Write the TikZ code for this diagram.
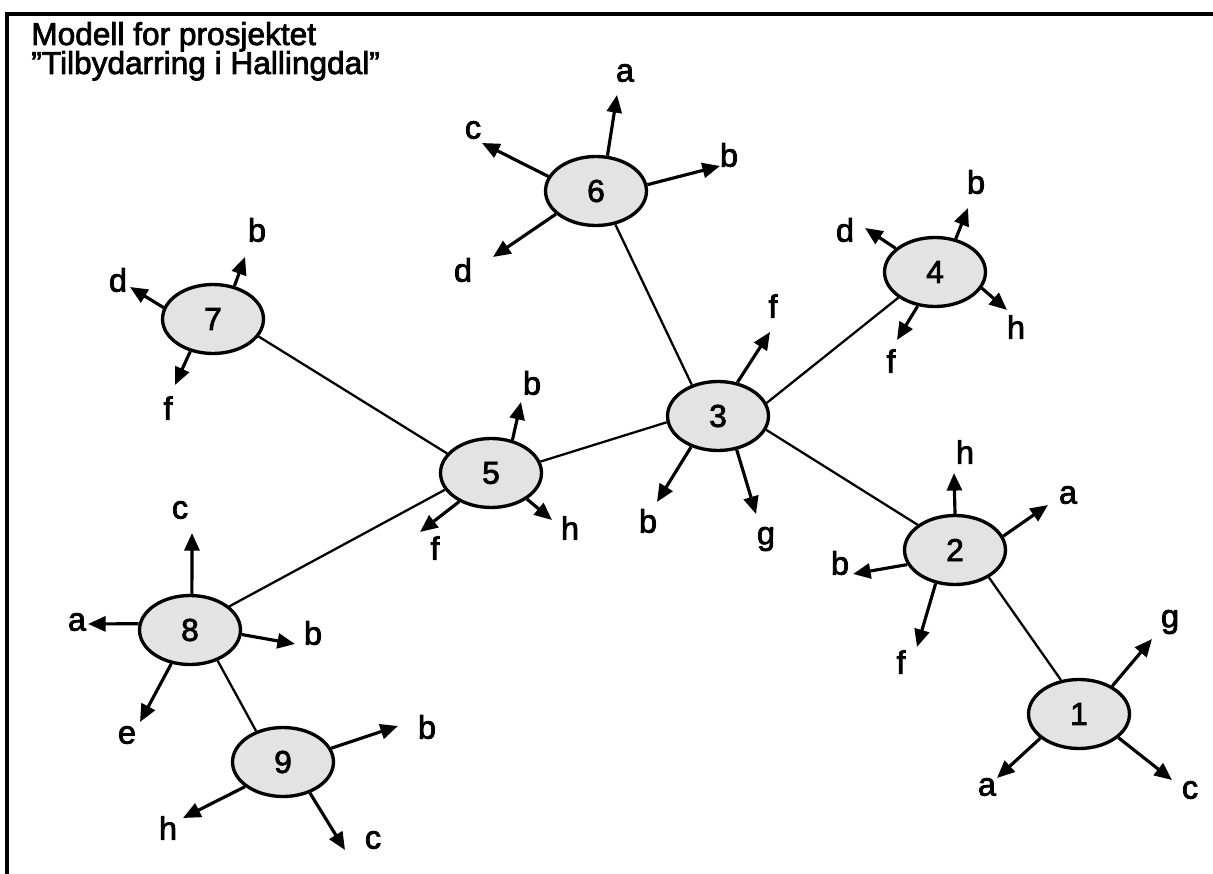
\documentclass[tikz,border=0pt]{standalone}
\usepackage{fontspec}
\setmainfont{Liberation Sans}[FakeBold=2.4]
\usetikzlibrary{arrows.meta,shapes.geometric}
\begin{document}
\begin{tikzpicture}[x=0.02cm,y=-0.02cm,
  blob/.style={ellipse,draw,line width=1.9pt,fill=black!11,minimum width=2.02cm,minimum height=1.38cm,inner sep=0pt,font=\fontsize{18}{20}\selectfont},
  lab/.style={inner sep=0pt,font=\fontsize{18.5}{20}\selectfont},
  ttl/.style={inner sep=0pt,anchor=base west,font=\fontsize{18}{21}\selectfont},
  link/.style={line width=1.3pt},
  outarrow/.style={line width=1.8pt,-{Triangle[length=10pt,width=8.5pt]}},
  frame/.style={line width=1.8pt}
]
\useasboundingbox (0,0) rectangle (1213,874);
% frame
\coordinate (fa) at (7,874);
\coordinate (fb) at (7,14);
\coordinate (fc) at (1213,14);
\draw[frame] (fa) -- (fb) -- (fc);
% title
\node[ttl] (t1) at (31,45) {Modell for prosjektet};
\node[ttl] (t2) at (31,74) {”Tilbydarring i Hallingdal”};
% nodes
\node[blob] (n1) at (1079,714) {1};
\node[blob] (n2) at (955,550) {2};
\node[blob] (n3) at (718,416) {3};
\node[blob] (n4) at (935,272) {4};
\node[blob] (n5) at (491,473) {5};
\node[blob] (n6) at (596,191) {6};
\node[blob] (n7) at (213,319) {7};
\node[blob] (n8) at (190,630) {8};
\node[blob] (n9) at (283,762) {9};
% links
\draw[link] (n6.-60) -- (n3.130);
\draw[link] (n4.215) -- (n3.15);
\draw[link] (n7.-21) -- (n5.156);
\draw[link] (n5.13) -- (n3.187);
\draw[link] (n3.-16) -- (n2.146);
\draw[link] (n2.-39) -- (n1.118);
\draw[link] (n8.31) -- (n5.200);
\draw[link] (n8.-48) -- (n9.131);
% node 6
\coordinate (p6a) at (617,95);  \node[lab] (l6a) at (625,73) {a};
\coordinate (p6c) at (482,143); \node[lab] (l6c) at (473,130) {c};
\coordinate (p6b) at (720,166); \node[lab] (l6b) at (729,155) {b};
\coordinate (p6d) at (493,257); \node[lab] (l6d) at (463,270) {d};
\draw[outarrow] (n6.72) -- (p6a);
\draw[outarrow] (n6.163) -- (p6c);
\draw[outarrow] (n6.7) -- (p6b);
\draw[outarrow] (n6.210) -- (p6d);
% node 4
\coordinate (p4b) at (968,208);  \node[lab] (l4b) at (976,182) {b};
\coordinate (p4d) at (865,228);  \node[lab] (l4d) at (845,230) {d};
\coordinate (p4h) at (1007,310); \node[lab] (l4h) at (1016,327) {h};
\coordinate (p4f) at (897,340);  \node[lab] (l4f) at (891,361) {f};
\draw[outarrow] (n4.58) -- (p4b);
\draw[outarrow] (n4.149) -- (p4d);
\draw[outarrow] (n4.-19) -- (p4h);
\draw[outarrow] (n4.243) -- (p4f);
% node 7
\coordinate (p7b) at (245,257); \node[lab] (l7b) at (257,230) {b};
\coordinate (p7d) at (130,287); \node[lab] (l7d) at (118,280) {d};
\coordinate (p7f) at (175,385); \node[lab] (l7f) at (168,408) {f};
\draw[outarrow] (n7.57) -- (p7b);
\draw[outarrow] (n7.167) -- (p7d);
\draw[outarrow] (n7.235) -- (p7f);
% node 3
\coordinate (p3f) at (770,332); \node[lab] (l3f) at (773,306) {f};
\coordinate (p3b) at (657,502); \node[lab] (l3b) at (648,521) {b};
\coordinate (p3g) at (756,514); \node[lab] (l3g) at (766,539) {g};
\draw[outarrow] (n3.60) -- (p3f);
\draw[outarrow] (n3.229) -- (p3b);
\draw[outarrow] (n3.-61) -- (p3g);
% node 5
\coordinate (p5b) at (521,402); \node[lab] (l5b) at (532,383) {b};
\coordinate (p5f) at (420,532); \node[lab] (l5f) at (435,548) {f};
\coordinate (p5h) at (552,520); \node[lab] (l5h) at (570,528) {h};
\draw[outarrow] (n5.57) -- (p5b);
\draw[outarrow] (n5.222) -- (p5f);
\draw[outarrow] (n5.-36) -- (p5h);
% node 2
\coordinate (p2h) at (954,473);  \node[lab] (l2h) at (965,452) {h};
\coordinate (p2a) at (1048,505); \node[lab] (l2a) at (1068,495) {a};
\coordinate (p2b) at (853,574);  \node[lab] (l2b) at (840,563) {b};
\coordinate (p2f) at (917,647);  \node[lab] (l2f) at (901,662) {f};
\draw[outarrow] (n2.90) -- (p2h);
\draw[outarrow] (n2.16) -- (p2a);
\draw[outarrow] (n2.197) -- (p2b);
\draw[outarrow] (n2.240) -- (p2f);
% node 1
\coordinate (p1g) at (1152,639); \node[lab] (l1g) at (1170,622) {g};
\coordinate (p1a) at (997,778);  \node[lab] (l1a) at (987,787) {a};
\coordinate (p1c) at (1172,780); \node[lab] (l1c) at (1190,790) {c};
\draw[outarrow] (n1.40) -- (p1g);
\draw[outarrow] (n1.212) -- (p1a);
\draw[outarrow] (n1.-31) -- (p1c);
% node 8
\coordinate (p8c) at (192,533); \node[lab] (l8c) at (180,510) {c};
\coordinate (p8a) at (88,624);  \node[lab] (l8a) at (77,622) {a};
\coordinate (p8b) at (295,644); \node[lab] (l8b) at (313,633) {b};
\coordinate (p8e) at (140,722); \node[lab] (l8e) at (127,735) {e};
\draw[outarrow] (n8.87) -- (p8c);
\draw[outarrow] (n8.173) -- (p8a);
\draw[outarrow] (n8.-5) -- (p8b);
\draw[outarrow] (n8.241) -- (p8e);
% node 9
\coordinate (p9b) at (398,726); \node[lab] (l9b) at (427,727) {b};
\coordinate (p9h) at (183,818); \node[lab] (l9h) at (168,828) {h};
\coordinate (p9c) at (345,850); \node[lab] (l9c) at (373,840) {c};
\draw[outarrow] (n9.16) -- (p9b);
\draw[outarrow] (n9.213) -- (p9h);
\draw[outarrow] (n9.-49) -- (p9c);
\end{tikzpicture}
\end{document}
